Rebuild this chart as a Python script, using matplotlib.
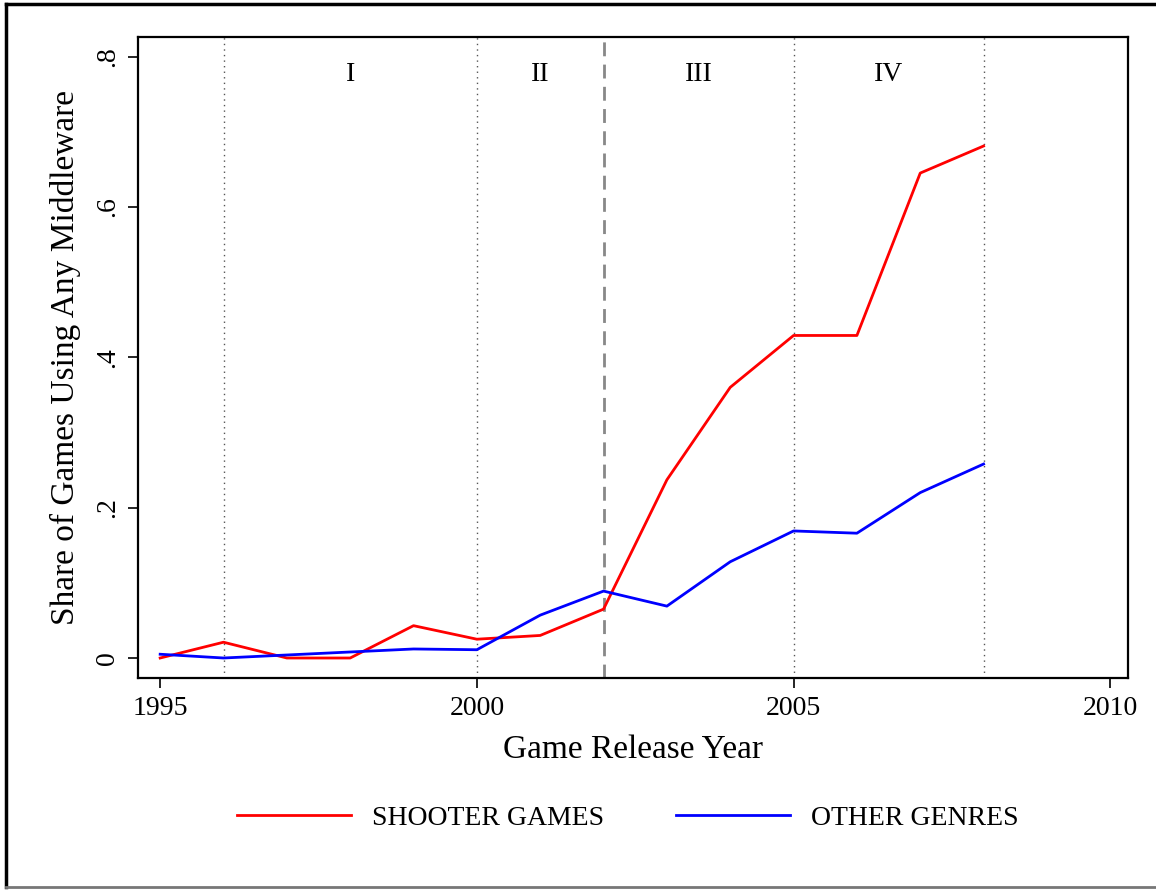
import matplotlib
matplotlib.use("Agg")
import matplotlib.pyplot as plt
from matplotlib.lines import Line2D

plt.rcParams['font.family'] = ['Liberation Serif', 'DejaVu Serif']

years = [1995, 1996, 1997, 1998, 1999, 2000, 2001, 2002, 2003, 2004, 2005, 2006, 2007, 2008]
shooter = [0.0, 0.021, 0.0, 0.0, 0.043, 0.025, 0.030, 0.065, 0.237, 0.360, 0.429, 0.429, 0.645, 0.681]
other = [0.005, 0.0, 0.004, 0.008, 0.012, 0.011, 0.057, 0.089, 0.069, 0.128, 0.169, 0.166, 0.220, 0.258]

period_lines = [1996, 2000, 2005, 2008]
break_year = 2002
period_labels = ['I', 'II', 'III', 'IV']
period_mid = [1998, 2001, 2003.5, 2006.5]

fig = plt.figure(figsize=(11.56, 8.90), dpi=100)
ax = fig.add_axes([138 / 1156, 1 - 678 / 890, 990 / 1156, 641 / 890])

for yr in period_lines:
    ax.axvline(yr, color='#555555', lw=1.0, ls=(0, (1, 3)), zorder=1)
ax.axvline(break_year, color='#888888', lw=2.0, ls=(0, (5, 3)), zorder=1)

l1, = ax.plot(years, shooter, color='#ff0000', lw=2.0, zorder=3)
l2, = ax.plot(years, other, color='#0000ff', lw=2.0, zorder=3)

for lab, xm in zip(period_labels, period_mid):
    ax.text(xm, 0.776, lab, ha='center', va='center', fontsize=20)

ax.set_xlim(1994.65, 2010.28)
ax.set_ylim(-0.0266, 0.826)
ax.set_xticks([1995, 2000, 2005, 2010])
ax.set_yticks([0, 0.2, 0.4, 0.6, 0.8])
ax.set_yticklabels(['0', '.2', '.4', '.6', '.8'], rotation=90, va='center')
ax.tick_params(axis='both', labelsize=20, length=7, width=1.2, direction='out', pad=6)
for sp in ax.spines.values():
    sp.set_linewidth(1.6)

ax.set_xlabel('Game Release Year', fontsize=24, labelpad=10)
ax.set_ylabel('Share of Games Using Any Middleware', fontsize=24, labelpad=10)

fig.legend([l1, l2], ['SHOOTER GAMES', 'OTHER GENRES'], loc='center',
           bbox_to_anchor=(0.543, 1 - 818 / 890), ncol=2, frameon=False,
           fontsize=20, handlelength=4.1, handletextpad=0.75, columnspacing=2.6)

# page frame
fig.add_artist(Line2D([6 / 1156, 1], [1 - 4 / 890, 1 - 4 / 890], color='black', lw=2.5))
fig.add_artist(Line2D([6 / 1156, 6 / 1156], [1 - 4 / 890, 1 - 887 / 890], color='black', lw=2.5))
fig.add_artist(Line2D([6 / 1156, 1], [1 - 887 / 890, 1 - 887 / 890], color='#777777', lw=2))

fig.savefig('out.png', dpi=100)
